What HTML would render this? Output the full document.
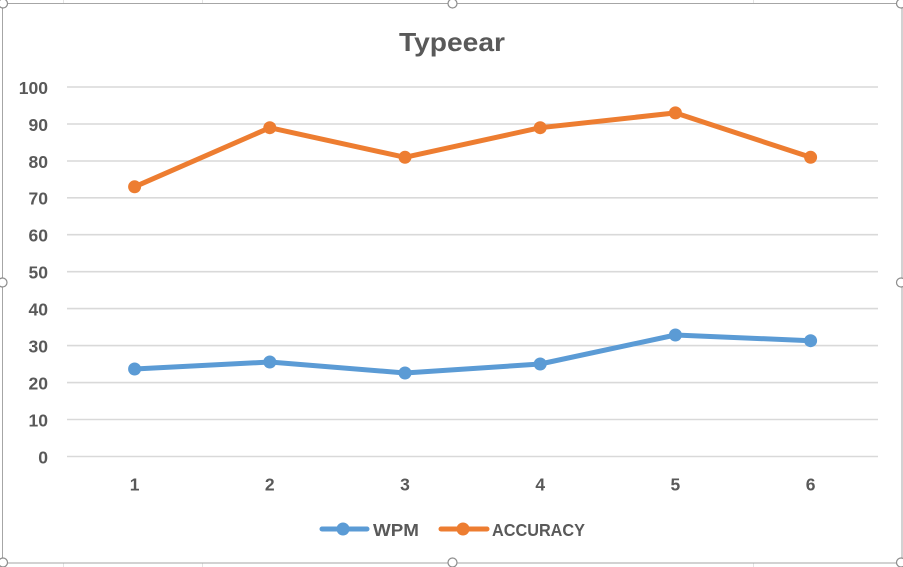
<!DOCTYPE html>
<html><head><meta charset="utf-8"><style>
html,body{margin:0;padding:0;background:#fff;}
svg{display:block;}
text{font-family:"Liberation Sans",Arial,sans-serif;font-weight:bold;fill:#595959;}
</style></head><body>
<svg width="903" height="567" viewBox="0 0 903 567" xmlns="http://www.w3.org/2000/svg">
<rect width="903" height="567" fill="#fff"/>
<g stroke="#e3e3e3" stroke-width="1">
<line x1="63.5" y1="0" x2="63.5" y2="3"/><line x1="202.5" y1="0" x2="202.5" y2="3"/><line x1="753.5" y1="0" x2="753.5" y2="3"/>
<line x1="63.5" y1="563" x2="63.5" y2="567"/><line x1="202.5" y1="563" x2="202.5" y2="567"/><line x1="753.5" y1="563" x2="753.5" y2="567"/>
</g>
<rect x="2.5" y="3.5" width="899.5" height="559.5" fill="#fff" stroke="#a6a6a6" stroke-width="1"/>
<g stroke="#d9d9d9" stroke-width="1.6">
<line x1="67" y1="87" x2="878" y2="87"/>
<line x1="67" y1="124" x2="878" y2="124"/>
<line x1="67" y1="161" x2="878" y2="161"/>
<line x1="67" y1="197.8" x2="878" y2="197.8"/>
<line x1="67" y1="234.7" x2="878" y2="234.7"/>
<line x1="67" y1="271.7" x2="878" y2="271.7"/>
<line x1="67" y1="308.6" x2="878" y2="308.6"/>
<line x1="67" y1="345.6" x2="878" y2="345.6"/>
<line x1="67" y1="382.6" x2="878" y2="382.6"/>
<line x1="67" y1="419.5" x2="878" y2="419.5"/>
<line x1="67" y1="456.5" x2="878" y2="456.5"/>
</g>
<text x="452" y="51" font-size="26" text-anchor="middle" textLength="106" lengthAdjust="spacingAndGlyphs">Typeear</text>
<g font-size="17.5" text-anchor="end">
<text x="48" y="94">100</text>
<text x="48" y="131">90</text>
<text x="48" y="168">80</text>
<text x="48" y="204.5">70</text>
<text x="48" y="241.5">60</text>
<text x="48" y="278.5">50</text>
<text x="48" y="315.5">40</text>
<text x="48" y="352.5">30</text>
<text x="48" y="389.5">20</text>
<text x="48" y="426.5">10</text>
<text x="48" y="463.5">0</text>
</g>
<g font-size="17.5" text-anchor="middle">
<text x="134.6" y="490.5">1</text>
<text x="269.8" y="490.5">2</text>
<text x="405" y="490.5">3</text>
<text x="540.2" y="490.5">4</text>
<text x="675.4" y="490.5">5</text>
<text x="810.6" y="490.5">6</text>
</g>
<polyline fill="none" stroke="#ED7D31" stroke-width="5" stroke-linejoin="round" stroke-linecap="round"
points="134.6,186.8 269.8,127.7 405,157.3 540.2,127.7 675.4,112.9 810.6,157.3"/>
<g fill="#ED7D31">
<circle cx="134.6" cy="186.8" r="6.5"/><circle cx="269.8" cy="127.7" r="6.5"/><circle cx="405" cy="157.3" r="6.5"/>
<circle cx="540.2" cy="127.7" r="6.5"/><circle cx="675.4" cy="112.9" r="6.5"/><circle cx="810.6" cy="157.3" r="6.5"/>
</g>
<polyline fill="none" stroke="#5B9BD5" stroke-width="5" stroke-linejoin="round" stroke-linecap="round"
points="134.6,369 269.8,362 405,373 540.2,364 675.4,335 810.6,340.7"/>
<g fill="#5B9BD5">
<circle cx="134.6" cy="369" r="6.5"/><circle cx="269.8" cy="362" r="6.5"/><circle cx="405" cy="373" r="6.5"/>
<circle cx="540.2" cy="364" r="6.5"/><circle cx="675.4" cy="335" r="6.5"/><circle cx="810.6" cy="340.7" r="6.5"/>
</g>
<line x1="322" y1="529" x2="367" y2="529" stroke="#5B9BD5" stroke-width="5" stroke-linecap="round"/>
<circle cx="343" cy="529" r="6.5" fill="#5B9BD5"/>
<text x="373" y="536" font-size="17.5" textLength="46" lengthAdjust="spacingAndGlyphs">WPM</text>
<line x1="441" y1="529" x2="487" y2="529" stroke="#ED7D31" stroke-width="5" stroke-linecap="round"/>
<circle cx="463" cy="529" r="6.5" fill="#ED7D31"/>
<text x="492" y="536" font-size="17.5" textLength="93" lengthAdjust="spacingAndGlyphs">ACCURACY</text>
<g fill="#fff" stroke="#8c8c8c" stroke-width="1.2">
<circle cx="3" cy="3.5" r="4.5"/><circle cx="452.5" cy="3.5" r="4.5"/><circle cx="901" cy="3.5" r="4.5"/>
<circle cx="2.5" cy="282.5" r="4.5"/><circle cx="901" cy="282.5" r="4.5"/>
<circle cx="3" cy="562.5" r="4.5"/><circle cx="452.5" cy="562.5" r="4.5"/><circle cx="901" cy="562.5" r="4.5"/>
</g>
</svg>
</body></html>
